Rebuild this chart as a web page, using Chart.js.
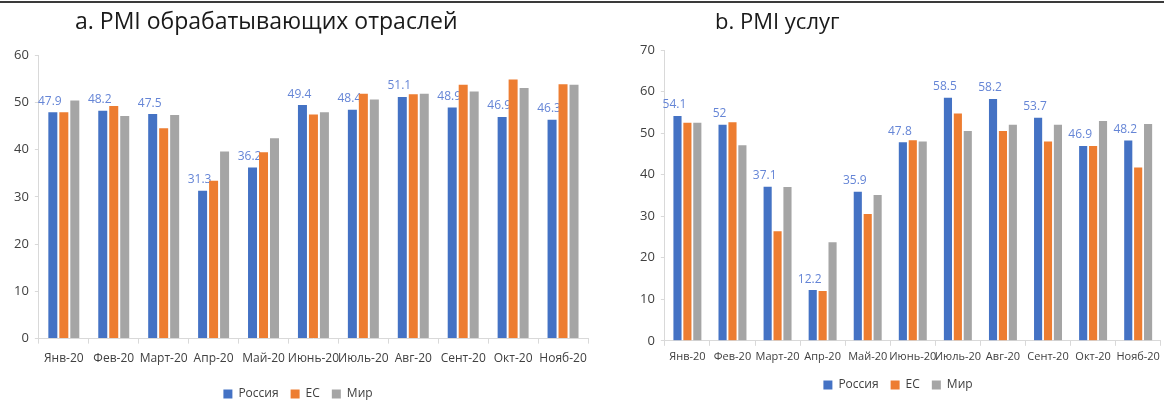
<!DOCTYPE html>
<html>
<head>
<meta charset="utf-8">
<script src="https://cdn.jsdelivr.net/npm/chart.js@4"></script>
<style>
    html, body { margin: 0; padding: 0; background: #fff; }
    body { width: 1164px; height: 402px; position: relative; overflow: hidden; font-family: "Open Sans", "DejaVu Sans", sans-serif; }
    .topline { position: absolute; left: 0; top: 1px; width: 1164px; height: 2px; background: #3a3a3a; }
    .box { position: absolute; top: 0; }
    #boxA { left: 0; width: 596px; height: 410px; }
    #boxB { left: 604px; width: 560px; height: 402px; }
    .title { position: absolute; top: 4px; font-size: 23px; line-height: 32px; color: #1a1a1a; white-space: nowrap; }
    #titleA { left: 75px; }
    #titleB { left: 715px; font-size: 22px; }
</style>
</head>
<body>
<div class="topline"></div>
<div class="box" id="boxA"><canvas id="chartA"></canvas></div>
<div class="box" id="boxB"><canvas id="chartB"></canvas></div>
<div class="title" id="titleA">a. PMI обрабатывающих отраслей</div>
<div class="title" id="titleB">b. PMI услуг</div>
<script>
    "use strict";

    var months = ['Янв-20', 'Фев-20', 'Март-20', 'Апр-20', 'Май-20', 'Июнь-20', 'Июль-20', 'Авг-20', 'Сент-20', 'Окт-20', 'Нояб-20'];
    var seriesNames = ['Россия', 'ЕС', 'Мир'];

    // a. manufacturing PMI
    var manufRussia = [47.9, 48.2, 47.5, 31.3, 36.2, 49.4, 48.4, 51.1, 48.9, 46.9, 46.3];
    var manufEU = [47.9, 49.2, 44.5, 33.4, 39.4, 47.4, 51.8, 51.7, 53.7, 54.8, 53.8];
    var manufWorld = [50.4, 47.1, 47.3, 39.6, 42.4, 47.9, 50.6, 51.8, 52.3, 53.0, 53.7];
    var manufTicks = [0, 10, 20, 30, 40, 50, 60];

    // b. services PMI
    var servRussia = [54.1, 52, 37.1, 12.2, 35.9, 47.8, 58.5, 58.2, 53.7, 46.9, 48.2];
    var servEU = [52.5, 52.6, 26.4, 12.0, 30.5, 48.3, 54.7, 50.5, 48.0, 46.9, 41.7];
    var servWorld = [52.5, 47.1, 37.0, 23.7, 35.1, 48.0, 50.5, 52.0, 52.0, 52.9, 52.2];
    var servTicks = [0, 10, 20, 30, 40, 50, 60, 70];

    var colors = ['#4472c4', '#ed7d31', '#a5a5a5'];
    var fontFamily = '"Open Sans", "DejaVu Sans", sans-serif';

    // values of the first series, drawn under the bars like in the source
    var russiaLabels = {
        id: 'russiaLabels',
        beforeDatasetsDraw: function (chart) {
            var ctx = chart.ctx;
            var meta = chart.getDatasetMeta(0);
            var values = chart.data.datasets[0].data;
            ctx.save();
            ctx.font = '12px ' + fontFamily;
            ctx.fillStyle = '#6585d6';
            ctx.textAlign = 'center';
            ctx.textBaseline = 'bottom';
            meta.data.forEach(function (bar, i) {
                ctx.fillText(String(values[i]), bar.x - 3, bar.y - 5);
            });
            ctx.restore();
        }
    };

    function makeChart(id, series, ticks, opts) {
        var ctx = document.getElementById(id).getContext('2d');
        var datasets = series.map(function (data, i) {
            return {
                label: seriesNames[i],
                data: data,
                backgroundColor: colors[i],
                borderWidth: 0,
                barPercentage: 0.82,
                categoryPercentage: opts.catPct
            };
        });

        return new Chart(ctx, {
            type: 'bar',
            data: {
                labels: months,
                datasets: datasets
            },
            plugins: [russiaLabels],
            options: {
                responsive: true,
                maintainAspectRatio: false,
                animation: false,
                layout: {
                    padding: opts.padding
                },
                plugins: {
                    title: { display: false },
                    legend: {
                        position: 'bottom',
                        labels: {
                            color: '#404040',
                            boxWidth: 9,
                            boxHeight: 9,
                            padding: 12,
                            font: { family: fontFamily, size: 12 }
                        }
                    },
                    tooltip: { enabled: false }
                },
                scales: {
                    x: {
                        afterFit: function (scale) {
                            scale.height += opts.xExtra;
                        },
                        grid: {
                            drawOnChartArea: false,
                            drawTicks: true,
                            tickLength: 5,
                            color: '#d9d9d9'
                        },
                        border: { color: '#d9d9d9' },
                        ticks: {
                            color: '#404040',
                            padding: opts.xPad,
                            maxRotation: 0,
                            autoSkip: false,
                            font: { family: fontFamily, size: opts.xFont }
                        }
                    },
                    y: {
                        min: ticks[0],
                        max: ticks[ticks.length - 1],
                        afterBuildTicks: function (axis) {
                            axis.ticks = ticks.map(function (v) { return { value: v }; });
                        },
                        grid: {
                            drawOnChartArea: false,
                            drawTicks: true,
                            tickLength: 4,
                            color: '#d9d9d9'
                        },
                        border: { color: '#d9d9d9' },
                        ticks: {
                            color: '#404040',
                            padding: 6,
                            font: { family: fontFamily, size: 13 }
                        }
                    }
                }
            }
        });
    }

    makeChart('chartA', [manufRussia, manufEU, manufWorld], manufTicks,
        { catPct: 0.66, xFont: 12, xPad: 8, xExtra: 2, padding: { top: 55, left: 8, right: 8, bottom: 0 } });

    makeChart('chartB', [servRussia, servEU, servWorld], servTicks,
        { catPct: 0.66, xFont: 11, xPad: 4, xExtra: 0, padding: { top: 50, left: 30, right: 2, bottom: 1 } });
</script>
</body>
</html>
